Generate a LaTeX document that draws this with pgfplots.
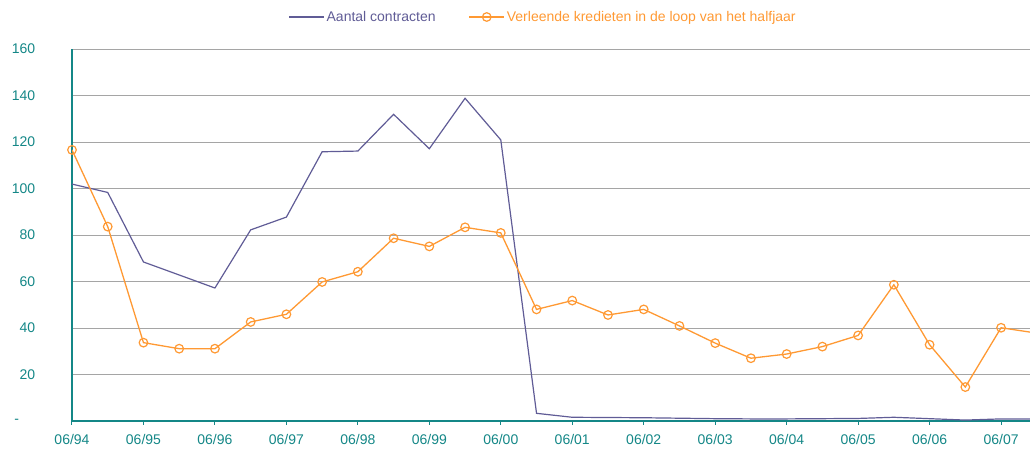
\documentclass[border=0pt]{standalone}
\usepackage{fontspec}
\setmainfont{Liberation Sans}
\usepackage{pgfplots}
\pgfplotsset{compat=1.18}
\usepackage{pgfplotstable}
\definecolor{cpurple}{RGB}{96,92,150}
\definecolor{corange}{RGB}{255,153,51}
\definecolor{cteal}{RGB}{20,135,135}
\definecolor{cgrid}{RGB}{165,165,165}
\pgfplotstableread{
i v
0 101.9
1 98.3
2 68.4
3 62.8
4 57.2
5 82.2
6 87.7
7 115.8
8 116.1
9 131.9
10 117.1
11 138.8
12 120.9
13 3.3
14 1.6
15 1.5
16 1.4
17 1.2
18 1.0
19 0.9
20 0.9
21 1.0
22 1.1
23 1.6
24 1.0
25 0.4
26 0.9
27 0.9
}\contracten
\pgfplotstableread{
i v
0 116.6
1 83.6
2 33.7
3 31.1
4 31.1
5 42.6
6 45.9
7 59.8
8 64.2
9 78.6
10 75.1
11 83.3
12 80.9
13 48.0
14 51.8
15 45.6
16 48.0
17 40.9
18 33.5
19 27.0
20 28.8
21 32.0
22 36.8
23 58.6
24 32.8
25 14.6
26 40.1
27 37.8
}\kredieten
\begin{document}
\fontsize{14}{16}\selectfont
\begin{tikzpicture}
\path[use as bounding box] (-72pt,-28pt) rectangle (958pt,421pt);
\begin{axis}[
  scale only axis, width=958pt, height=372pt,
  at={(0,0)}, anchor=south west,
  xmin=0, xmax=26.81, ymin=0, ymax=160,
  axis x line*=bottom, axis y line*=left,
  axis line style={cteal, line width=1.2pt, -},
  xtick={0,2,...,26},
  xticklabels={06/94,06/95,06/96,06/97,06/98,06/99,06/00,06/01,06/02,06/03,06/04,06/05,06/06,06/07},
  ytick={0,20,...,160},
  yticklabels={{-\hspace*{16pt}},20,40,60,80,100,120,140,160},
  ymajorgrids, grid style={cgrid, line width=0.8pt},
  xtick style={cteal, line width=1pt},
  ytick style={draw=none},
  tick align=outside, major tick length=4pt,
  tick label style={cteal, font=\fontsize{14}{16}\selectfont},
  /pgf/number format/assume math mode=true,
  yticklabel style={xshift=-28pt},
  xticklabel style={yshift=-4pt},
  legend columns=2,
  legend style={at={(axis description cs:0.4917,1.086)}, anchor=center, draw=none, fill=none,
    font=\fontsize{14}{16}\selectfont, inner sep=0pt},
  legend cell align=left,
  /tikz/every even column/.append style={column sep=31pt},
  legend image code/.code={\draw[mark repeat=2,mark phase=2,#1] plot coordinates {(0pt,0pt) (17.5pt,0pt) (35pt,0pt)};},
]
\addplot[cpurple, line width=1.2pt, no markers] table[x=i,y=v] {\contracten};
\addlegendentry{\textcolor{cpurple}{Aantal contracten}}
\addplot[corange, line width=1.3pt, mark=o, mark size=4.3pt, mark options={line width=1.2pt}] table[x=i,y=v] {\kredieten};
\addlegendentry{\textcolor{corange}{Verleende kredieten in de loop van het halfjaar}}
\end{axis}
\end{tikzpicture}
\end{document}
